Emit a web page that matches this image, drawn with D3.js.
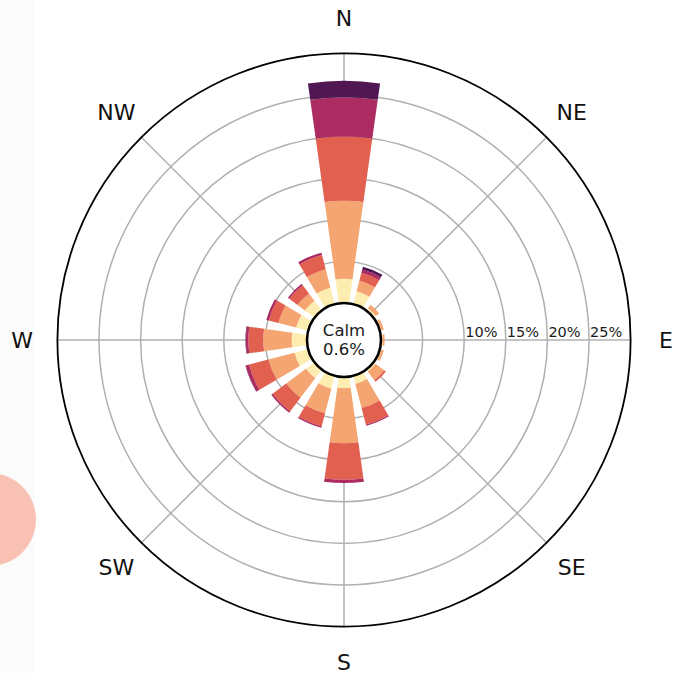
<!DOCTYPE html>
<html>
<head>
<meta charset="utf-8">
<script src="https://cdn.jsdelivr.net/npm/d3@7"></script>
<style>
  html, body { margin: 0; padding: 0; background: #ffffff; }
  svg { display: block; font-family: "DejaVu Sans", sans-serif; }
</style>
</head>
<body>
<svg id="chart" width="674" height="673"></svg>
<script>
// ---- data (percent frequency per direction and speed bin) ----
const directions = ["N","NNE","NE","ENE","E","ESE","SE","SSE","S","SSW","SW","WSW","W","WNW","NW","NNW"];
const bins = ["bin1","bin2","bin3","bin4","bin5"];
const bin1 = [2.9, 1.6, 0.35, 0.2, 0.2, 0.2, 0.3, 1.0, 1.35, 1.6, 1.3, 1.7, 1.85, 1.5, 1.45, 2.05];
const bin2 = [9.4, 1.3, 0.5, 0.3, 0.25, 0.3, 1.3, 3.0, 6.6, 3.05, 2.95, 3.25, 3.4, 2.2, 1.1, 2.3];
const bin3 = [7.7, 1.0, 0, 0, 0, 0, 0.25, 2.05, 4.4, 1.6, 2.05, 2.4, 1.8, 1.2, 1.25, 1.75];
const bin4 = [4.7, 0.4, 0, 0, 0, 0, 0, 0.15, 0.4, 0.2, 0.2, 0.4, 0.3, 0.3, 0.2, 0.3];
const bin5 = [2.0, 0.35, 0, 0, 0, 0, 0, 0, 0, 0, 0, 0.05, 0.05, 0, 0, 0];
const binColors = ["#fdedb0", "#f4a571", "#e2604f", "#ac2b61", "#511752"];
const calmValue = "0.6%";
const radialTicks = [5, 10, 15, 20, 25];
const radialTickLabels = ["10%", "15%", "20%", "25%"];
const radialLabelTicks = [10, 15, 20, 25];
const compassLabels = ["N","NE","E","SE","S","SW","W","NW"];

// ---- layout ----
const svg = d3.select("#chart");
const cx = 344, cy = 340;
const calmR = 37, outerR = 286.6, maxPct = 30;

// background decorations seen in the reference
svg.append("rect").attr("x", 0).attr("y", 0).attr("width", 35).attr("height", 673).attr("fill", "#fbfbfb");
svg.append("circle").attr("cx", -10.5).attr("cy", 519.5).attr("r", 46.5).attr("fill", "#f8c1b3");

const g = svg.append("g").attr("transform", `translate(${cx},${cy})`);

const r = d3.scaleLinear().domain([0, maxPct]).range([calmR, outerR]);
const deg = Math.PI / 180;
const angle = d3.scaleBand()
  .domain(directions)
  .range([-11.25 * deg, 348.75 * deg])
  .paddingInner(6.5 / 22.5)
  .paddingOuter(6.5 / 45);

const table = directions.map((d, i) => ({
  dir: d, bin1: bin1[i], bin2: bin2[i], bin3: bin3[i], bin4: bin4[i], bin5: bin5[i]
}));
const stacked = d3.stack().keys(bins)(table);
const color = d3.scaleOrdinal().domain(bins).range(binColors);

// ---- grid ----
const grid = g.append("g");
grid.selectAll("circle.grid").data(radialTicks).join("circle")
  .attr("class", "grid")
  .attr("r", d => r(d))
  .attr("fill", "none")
  .attr("stroke", "#b0b0b0")
  .attr("stroke-width", 1.5);

const spokeAngles = d3.range(0, 360, 45);
grid.selectAll("line.spoke").data(spokeAngles).join("line")
  .attr("class", "spoke")
  .attr("x1", 0).attr("y1", 0)
  .attr("x2", d => outerR * Math.sin(d * deg))
  .attr("y2", d => -outerR * Math.cos(d * deg))
  .attr("stroke", "#b0b0b0")
  .attr("stroke-width", 1.5);

// ---- bars ----
const arc = d3.arc();
g.append("g").selectAll("g.layer").data(stacked).join("g")
  .attr("class", "layer")
  .attr("fill", d => color(d.key))
  .selectAll("path").data(d => d.filter(s => s[1] - s[0] > 0)).join("path")
  .attr("d", s => arc({
    innerRadius: r(s[0]),
    outerRadius: r(s[1]),
    startAngle: angle(s.data.dir),
    endAngle: angle(s.data.dir) + angle.bandwidth()
  }));

// ---- outer frame ----
g.append("circle").attr("r", outerR).attr("fill", "none").attr("stroke", "#000").attr("stroke-width", 1.8);

// ---- radial labels ----
g.append("g").selectAll("text").data(radialLabelTicks).join("text")
  .attr("x", d => r(d) + 1)
  .attr("y", -3)
  .attr("text-anchor", "start")
  .attr("font-size", 14.5)
  .attr("fill", "#1a1a1a")
  .text((d, i) => radialTickLabels[i]);

// ---- compass labels ----
const labelR = 322;
g.append("g").selectAll("text").data(compassLabels).join("text")
  .attr("x", (d, i) => labelR * Math.sin(i * 45 * deg))
  .attr("y", (d, i) => -labelR * Math.cos(i * 45 * deg))
  .attr("text-anchor", "middle")
  .attr("dominant-baseline", "central")
  .attr("font-size", 22)
  .attr("fill", "#111")
  .text(d => d);

// ---- calm circle ----
g.append("circle").attr("r", calmR).attr("fill", "#fff").attr("stroke", "#000").attr("stroke-width", 2.6);
g.append("text").attr("x", 0).attr("y", -4).attr("text-anchor", "middle")
  .attr("font-size", 16.5).attr("fill", "#1a1a1a").text("Calm");
g.append("text").attr("x", 0).attr("y", 14.5).attr("text-anchor", "middle")
  .attr("font-size", 16.5).attr("fill", "#1a1a1a").text(calmValue);
</script>
</body>
</html>
